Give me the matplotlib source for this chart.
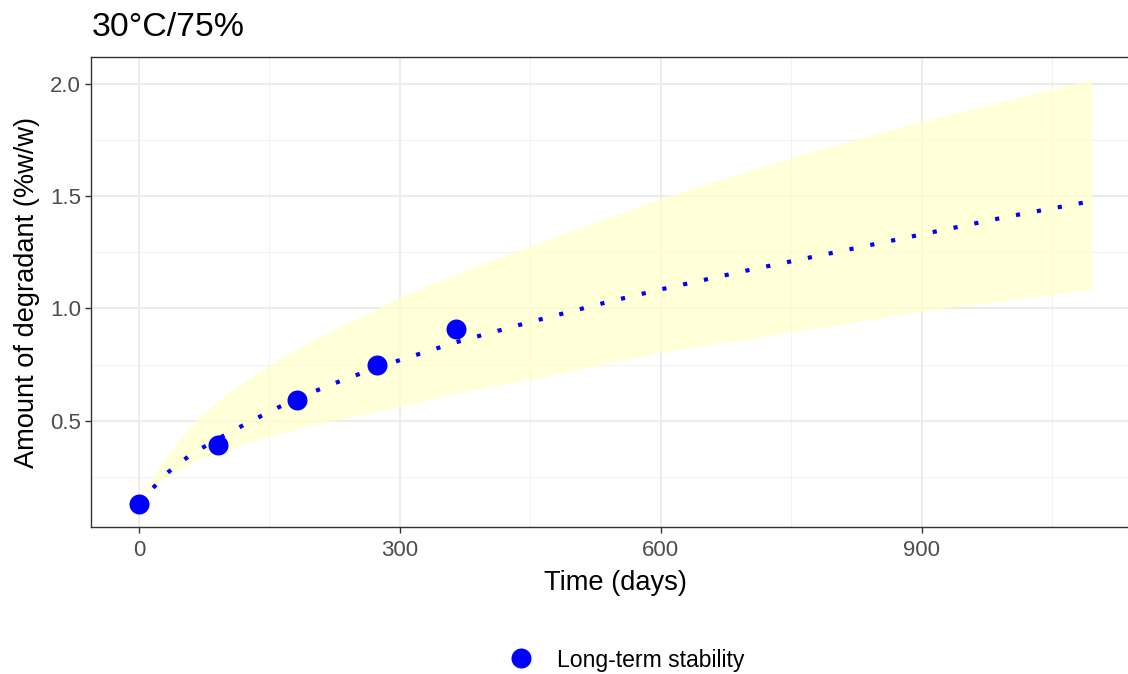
import numpy as np
import matplotlib
matplotlib.use('Agg')
import matplotlib.pyplot as plt
from matplotlib.lines import Line2D

plt.rcParams['font.family'] = ['Liberation Sans', 'DejaVu Sans']

# Observed long-term stability points
obs_days = [0, 91, 182, 274, 365]
obs_amount = [0.13, 0.39, 0.59, 0.75, 0.91]

# Predicted (dotted line)
pred_days = [0, 30, 60, 91, 120, 150, 182, 240, 300, 365, 450, 540, 600,
             700, 800, 900, 1000, 1095]
pred_amount = [0.13, 0.26, 0.35, 0.42, 0.48, 0.54, 0.60, 0.69, 0.77, 0.85,
               0.94, 1.03, 1.085, 1.17, 1.25, 1.33, 1.41, 1.478]

# Prediction band
band_days = [0, 10, 21, 45, 67, 100, 151, 200, 300, 375, 450, 600, 751, 903, 1095]
band_upper = [0.13, 0.22, 0.28, 0.41, 0.505, 0.62, 0.75, 0.86, 1.05, 1.17,
              1.279, 1.491, 1.674, 1.837, 2.02]
band_lower = [0.13, 0.18, 0.22, 0.28, 0.326, 0.37, 0.43, 0.48, 0.563, 0.63,
              0.684, 0.805, 0.895, 0.99, 1.085]

x_ticks = [0, 300, 600, 900]
y_ticks = [0.5, 1.0, 1.5, 2.0]

fig = plt.figure(figsize=(11.28, 6.74), dpi=100)
ax = fig.add_axes([0.081, 0.218, 0.9287, 0.6973])

ax.fill_between(band_days, band_lower, band_upper, color='#FFFFCC', alpha=0.75,
                linewidth=0, zorder=2)
ax.plot(pred_days, pred_amount, color='blue', linewidth=3.0,
        linestyle=(0, (1, 4.1)), dash_capstyle='butt', zorder=3)
ax.plot(obs_days, obs_amount, 'o', color='blue', markersize=14.4,
        markeredgewidth=0, zorder=4)

ax.set_xlim(-54.75, 1149.75)
ax.set_ylim(0.026, 2.12)
ax.set_xticks(x_ticks)
ax.set_yticks(y_ticks)
ax.set_xticks([150, 450, 750, 1050], minor=True)
ax.set_yticks([0.25, 0.75, 1.25, 1.75], minor=True)
ax.set_yticklabels(['0.5', '1.0', '1.5', '2.0'])

ax.grid(which='major', color='#EBEBEB', linewidth=1.3, zorder=0)
ax.grid(which='minor', color='#F2F2F2', linewidth=0.8, zorder=0)
ax.set_axisbelow(True)
ax.tick_params(which='major', length=4.5, width=1.0, color='#333333',
               labelsize=16, labelcolor='#4D4D4D', pad=3)
ax.tick_params(axis='x', which='major', pad=4.5)
ax.tick_params(which='minor', length=0)
for s in ax.spines.values():
    s.set_color('#333333')
    s.set_linewidth(1.0)

ax.set_xlabel('Time (days)', fontsize=19.6, labelpad=7)
ax.set_ylabel('Amount of degradant (%w/w)', fontsize=19.6, labelpad=7)

fig.text(0.0816, 1 - 36 / 674, '30°C/75%', fontsize=24.4, ha='left',
         va='baseline')

handle = Line2D([], [], marker='o', color='blue', linestyle='none',
                markersize=14.4, markeredgewidth=0)
fig.legend([handle], ['Long-term stability'], loc='center',
           bbox_to_anchor=(0.5507, 1 - 660 / 674), frameon=False, fontsize=16.6,
           handletextpad=0.55)

fig.savefig('out.png', dpi=100)
